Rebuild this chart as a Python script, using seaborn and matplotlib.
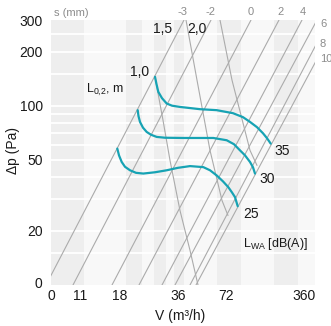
import pandas as pd
import seaborn as sns
import matplotlib
matplotlib.use('Agg')
from matplotlib import pyplot as plt
from matplotlib.ticker import NullLocator

W, H = 331, 326
TEAL = '#17a3b4'
LINE_GRAY = '#ababab'
LABEL_GRAY = '#8c8c8c'

# x is in chart units from the left edge of the plot (the printed V scale is irregular)
X_TICK_POS = [0, 29, 69, 127, 175, 253]
X_TICK_LABELS = ['0', '11', '18', '36', '72', '360']
Y_TICK_POS = [10.3, 20, 50, 100, 200, 300]
Y_TICK_LABELS = ['0', '20', '50', '100', '200', '300']
GRID_PA = [15, 20, 30, 40, 50, 60, 70, 80, 90, 100, 150, 200, 250]
BANDS = [(0, 33), (75, 91), (103, 115), (123, 133), (166, 190), (223, 247)]

# sound power level curves L_WA [dB(A)]
LWA_35_X = [104, 105.5, 107.3, 111, 115.7, 121, 129, 149, 165.7, 182, 192, 199, 206, 212, 216, 219.7]
LWA_35_P = [144.7, 131.7, 119.3, 110.0, 102.7, 99.9, 98.3, 95.5, 94.3, 90.7, 86.2, 81.1, 75.8, 70.1, 65.8, 61.4]
LWA_30_X = [86.7, 87.5, 89, 92, 95.7, 100, 105.7, 114, 132.3, 162.3, 175.7, 183, 189, 194, 199, 202, 204]
LWA_30_P = [94.3, 87.3, 81.1, 75.3, 71.3, 68.8, 66.9, 66.2, 66.0, 66.0, 64.1, 60.9, 56.3, 52.8, 48.5, 45.3, 41.8]
LWA_25_X = [66.3, 68, 70.7, 74, 79, 85, 92.3, 104, 115.7, 127, 139, 152.3, 159, 165.7, 172, 177.3, 181, 184, 186.7]
LWA_25_P = [57.6, 52.8, 48.5, 45.6, 43.6, 42.2, 41.8, 42.5, 43.6, 45.0, 46.0, 45.4, 43.6, 40.8, 37.8, 35.1, 32.8, 30.9, 27.5]

# throw length L0,2 curves (m)
L02_10_X = [104, 112, 119, 129, 139, 147]
L02_10_P = [144.7, 82.9, 49.5, 26.0, 15.6, 10]
L02_15_X = [135, 146, 159, 171, 177]
L02_15_P = [300, 138.7, 56.3, 29.6, 24.4]
L02_20_X = [169, 181, 199, 206]
L02_20_P = [300, 138.7, 56.3, 46.4]

# damper setting s (mm): position at 10 Pa and at 300 Pa
S_LABELS = ['-3', '-2', '0', '2', '4', '6', '8', '10']
S_X_AT_10 = [-5, 22, 61, 88, 111, 124, 139, 145]
S_X_AT_300 = [133, 160, 200, 228, 251, 266, 278, 287]


def fig_xy(px, py):
    return px / W, 1 - py / H


sns.set_theme(style='white')
plt.rcParams['font.family'] = ['Liberation Sans', 'DejaVu Sans']
plt.rcParams['mathtext.fontset'] = 'custom'
plt.rcParams['mathtext.rm'] = 'Liberation Sans'

fig = plt.figure(figsize=(W / 100, H / 100), dpi=100)
ax = fig.add_axes([51 / W, (H - 285) / H, 264 / W, 265 / H])
ax.set_yscale('log')
ax.set_xlim(0, 264)
ax.set_ylim(10, 300)
ax.set_facecolor('#f8f8f8')

for x0, x1 in BANDS:
    ax.axvspan(x0, x1, color='#eeeeee', lw=0, zorder=0)
for p in GRID_PA:
    ax.axhline(p, color='white', lw=1.3, zorder=1)

s_lines = pd.concat([
    pd.DataFrame({'x': [b, t], 'p': [10, 300], 's': lab})
    for lab, b, t in zip(S_LABELS, S_X_AT_10, S_X_AT_300)
])
sns.lineplot(data=s_lines, x='x', y='p', units='s', estimator=None, sort=False,
             color=LINE_GRAY, lw=0.8, ax=ax, legend=False)

throw = pd.concat([
    pd.DataFrame({'x': L02_10_X, 'p': L02_10_P, 'L': '1,0'}),
    pd.DataFrame({'x': L02_15_X, 'p': L02_15_P, 'L': '1,5'}),
    pd.DataFrame({'x': L02_20_X, 'p': L02_20_P, 'L': '2,0'}),
])
sns.lineplot(data=throw, x='x', y='p', units='L', estimator=None, sort=False,
             color=LINE_GRAY, lw=0.8, ax=ax, legend=False)

lwa = pd.concat([
    pd.DataFrame({'x': LWA_25_X, 'p': LWA_25_P, 'lwa': '25'}),
    pd.DataFrame({'x': LWA_30_X, 'p': LWA_30_P, 'lwa': '30'}),
    pd.DataFrame({'x': LWA_35_X, 'p': LWA_35_P, 'lwa': '35'}),
])
sns.lineplot(data=lwa, x='x', y='p', units='lwa', estimator=None, sort=False,
             color=TEAL, lw=1.6, ax=ax, legend=False)

for sp in ax.spines.values():
    sp.set_visible(False)
ax.set_xticks(X_TICK_POS)
ax.set_xticklabels(X_TICK_LABELS)
ax.set_yticks(Y_TICK_POS)
ax.set_yticklabels(Y_TICK_LABELS)
ax.yaxis.set_minor_locator(NullLocator())
ax.tick_params(axis='both', length=0, labelsize=10, colors='#1a1a1a')
ax.tick_params(axis='y', pad=6)
ax.tick_params(axis='x', pad=3)
ax.set_xlabel('')
ax.set_ylabel('')

# in-plot labels
ax.text(89, 153, '1,0', fontsize=10, ha='center', va='center', color='#1a1a1a')
ax.text(112, 268, '1,5', fontsize=10, ha='center', va='center', color='#1a1a1a')
ax.text(146, 268, '2,0', fontsize=10, ha='center', va='center', color='#1a1a1a')
ax.text(54, 122, r'L$_{\mathrm{0{,}2}}$, m', fontsize=9, ha='center', va='center', color='#1a1a1a')
ax.text(231, 56, '35', fontsize=10, ha='center', va='center', color='#1a1a1a')
ax.text(216, 38.8, '30', fontsize=10, ha='center', va='center', color='#1a1a1a')
ax.text(200, 25, '25', fontsize=10, ha='center', va='center', color='#1a1a1a')
ax.text(225, 17, r'L$_{\mathrm{WA}}$ [dB(A)]', fontsize=9, ha='center', va='center', color='#1a1a1a')

# damper setting labels above / right of the plot
fig.text(*fig_xy(54, 13), 's (mm)', fontsize=8, color=LABEL_GRAY, ha='left', va='center')
for lab, px in zip(S_LABELS[:5], [183, 210, 251, 281, 303]):
    fig.text(*fig_xy(px, 12), lab, fontsize=8, color=LABEL_GRAY, ha='center', va='center')
for lab, py in zip(S_LABELS[5:], [24, 44, 59]):
    fig.text(*fig_xy(320, py), lab, fontsize=8, color=LABEL_GRAY, ha='left', va='center')

fig.text(*fig_xy(13, 151), 'Δp (Pa)', fontsize=10, rotation=90, ha='center', va='center', color='#1a1a1a')
fig.text(*fig_xy(180, 316), 'V (m³/h)', fontsize=10, ha='center', va='center', color='#1a1a1a')

fig.savefig('out.png', dpi=100)
